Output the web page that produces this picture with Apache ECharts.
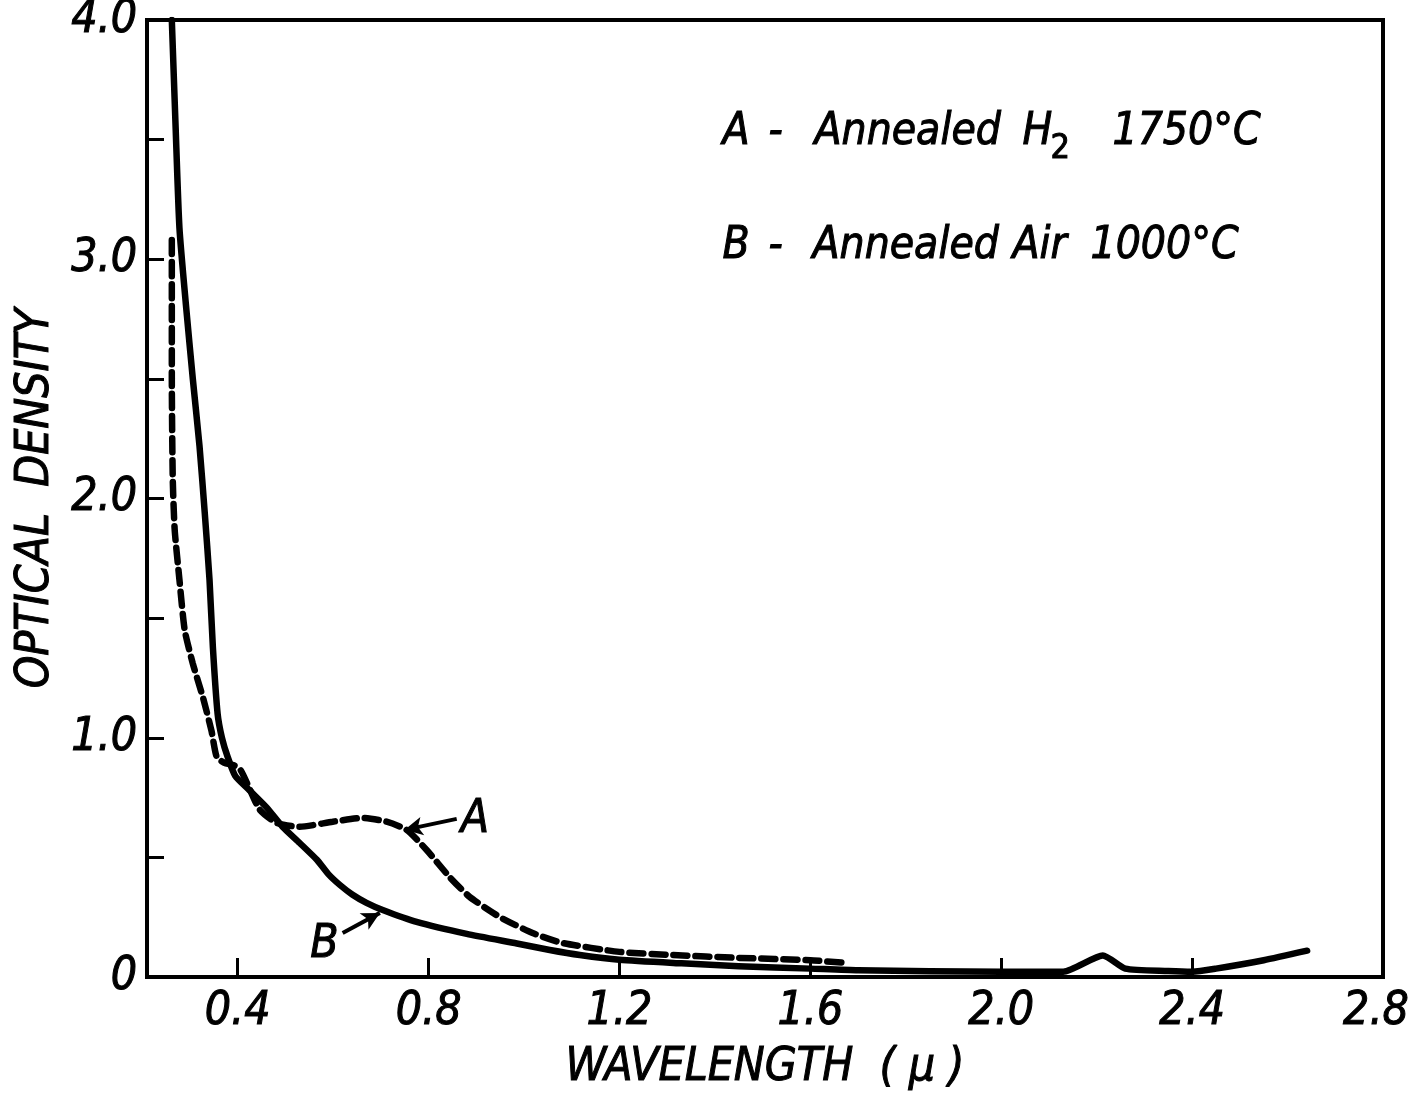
<!DOCTYPE html>
<html>
<head>
<meta charset="utf-8">
<script src="https://cdn.jsdelivr.net/npm/echarts@6/dist/echarts.min.js"></script>
<style>
html,body{margin:0;padding:0;background:#fff;}
#chart{width:1409px;height:1094px;}
</style>
</head>
<body>
<div id="chart"></div>
<script>
// ---- Data ----
// Curve A: Annealed H2 1750°C (dashed)
var wavelengthA = [0.262,0.262,0.262,0.264,0.268,0.278,0.289,0.306,0.327,0.345,0.356,0.372,0.392,0.406,0.422,0.446,0.482,0.530,0.599,0.662,0.712,0.754,0.796,0.844,0.886,0.949,1.018,1.081,1.200,1.312,1.450,1.600,1.668];
var densityA    = [3.08,2.83,2.50,2.08,1.87,1.66,1.45,1.31,1.17,1.03,0.92,0.895,0.885,0.865,0.80,0.70,0.644,0.628,0.649,0.665,0.649,0.615,0.531,0.418,0.335,0.251,0.184,0.142,0.105,0.092,0.080,0.070,0.060];
// Curve B: Annealed Air 1000°C (solid)
var wavelengthB = [0.262,0.270,0.278,0.292,0.306,0.320,0.331,0.341,0.348,0.358,0.367,0.379,0.395,0.425,0.460,0.494,0.530,0.566,0.590,0.614,0.640,0.670,0.704,0.775,0.880,0.985,1.054,1.117,1.200,1.330,1.450,1.600,1.700,2.000,2.130,2.213,2.260,2.350,2.400,2.450,2.550,2.641];
var densityB    = [4.00,3.55,3.13,2.80,2.50,2.22,1.94,1.66,1.38,1.10,1.00,0.92,0.84,0.78,0.71,0.628,0.56,0.49,0.43,0.385,0.345,0.31,0.28,0.23,0.18,0.14,0.113,0.092,0.072,0.057,0.045,0.035,0.028,0.022,0.022,0.090,0.035,0.025,0.022,0.035,0.070,0.110];

// Axis ticks / labels
var xTickValues  = [0.4,0.8,1.2,1.6,2.0,2.4];
var xLabelValues = [0.4,0.8,1.2,1.6,2.0,2.4,2.8];
var yLabelValues = [0,1,2,3,4];

// Annotation arrows (tail -> head) and their letters
var arrowA = [[0.859,0.661],[0.750,0.615]];
var arrowB = [[0.620,0.184],[0.698,0.268]];
var letterPosA = [0.897,0.657];
var letterPosB = [0.582,0.134];
var curveLetters = ['A', 'B'];

function zip(xs, ys){ var o=[]; for(var i=0;i<xs.length;i++){ o.push([xs[i],ys[i]]); } return o; }

var FONT = '"DejaVu Sans Condensed", "DejaVu Sans"';
var TB = {textBorderColor:'#000', textBorderWidth:1};

function txt(left, top, s, size, upright){
  return {type:'text', left:left, top:top, style:{text:s, fill:'#000', stroke:'#000', lineWidth:1,
    font:(upright?'':'italic ')+(size||44)+'px "DejaVu Sans Condensed", "DejaVu Sans"'}};
}

var chart = echarts.init(document.getElementById('chart'));
chart.setOption({
  animation:false,
  backgroundColor:'#fff',
  grid:{left:147,right:26,top:20,bottom:117,outerBoundsMode:'none',containLabel:false,
    show:true,borderColor:'#000',borderWidth:4,backgroundColor:'transparent'},
  xAxis:{
    type:'value', min:0.21, max:2.8,
    axisLine:{show:true,lineStyle:{color:'#000',width:4}},
    axisTick:{show:true,inside:true,length:19,lineStyle:{color:'#000',width:3},customValues:xTickValues},
    axisLabel:Object.assign({show:true,color:'#000',fontFamily:FONT,fontStyle:'italic',fontSize:46,margin:12,
      customValues:xLabelValues,
      formatter:function(v){ var s=v.toFixed(1); return v>=2.79 ? '{r|'+s+'}' : s; },
      rich:{r:{fontFamily:FONT,fontStyle:'italic',fontSize:46,color:'#000',padding:[0,14,0,0],textBorderColor:'#000',textBorderWidth:1}}}, TB),
    splitLine:{show:false},
    name:'WAVELENGTH  ( \u03BC )', nameLocation:'middle', nameGap:68,
    nameTextStyle:Object.assign({color:'#000',fontFamily:FONT,fontStyle:'italic',fontSize:46}, TB)
  },
  yAxis:{
    type:'value', min:0, max:4, interval:0.5,
    axisLine:{show:true,lineStyle:{color:'#000',width:4}},
    axisTick:{show:true,inside:true,length:17,lineStyle:{color:'#000',width:3}},
    axisLabel:Object.assign({show:true,color:'#000',fontFamily:FONT,fontStyle:'italic',fontSize:46,margin:10,
      formatter:function(v){ if(yLabelValues.indexOf(v)<0) return ''; return v===0?'0':v.toFixed(1);} }, TB),
    splitLine:{show:false},
    name:'OPTICAL  DENSITY', nameLocation:'middle', nameGap:86,
    nameTextStyle:Object.assign({color:'#000',fontFamily:FONT,fontStyle:'italic',fontSize:46}, TB)
  },
  graphic:[
    txt(722,110,'A'), txt(768,110,'-'), txt(814,110,'Annealed'), txt(1022,110,'H'), txt(1050,132,'2',34,true), txt(1112,110,'1750\u00B0C'),
    txt(722,224,'B'), txt(768,224,'-'), txt(812,224,'Annealed'), txt(1012,224,'Air'), txt(1090,224,'1000\u00B0C')
  ],
  series:[
    {
      name:'A', type:'line', data:zip(wavelengthA,densityA), showSymbol:false, smooth:0.2,
      lineStyle:{color:'#000',width:6.5,type:[14,8],cap:'round'},
      markLine:{silent:true,symbol:['none','arrow'],symbolSize:[14,18],
        lineStyle:{color:'#000',width:4,type:'solid'},
        label:{show:false},
        data:[[{coord:arrowA[0]},{coord:arrowA[1]}]]},
      markPoint:{silent:true,symbol:'circle',symbolSize:0,
        label:Object.assign({show:true,position:'inside',formatter:curveLetters[0],color:'#000',fontFamily:FONT,fontStyle:'italic',fontSize:46}, TB),
        data:[{coord:letterPosA}]}
    },
    {
      name:'B', type:'line', data:zip(wavelengthB,densityB), showSymbol:false, smooth:0.2,
      lineStyle:{color:'#000',width:6.5,cap:'round',join:'round'},
      markLine:{silent:true,symbol:['none','arrow'],symbolSize:[14,18],
        lineStyle:{color:'#000',width:4,type:'solid'},
        label:{show:false},
        data:[[{coord:arrowB[0]},{coord:arrowB[1]}]]},
      markPoint:{silent:true,symbol:'circle',symbolSize:0,
        label:Object.assign({show:true,position:'inside',formatter:curveLetters[1],color:'#000',fontFamily:FONT,fontStyle:'italic',fontSize:46}, TB),
        data:[{coord:letterPosB}]}
    }
  ]
});
</script>
</body>
</html>
